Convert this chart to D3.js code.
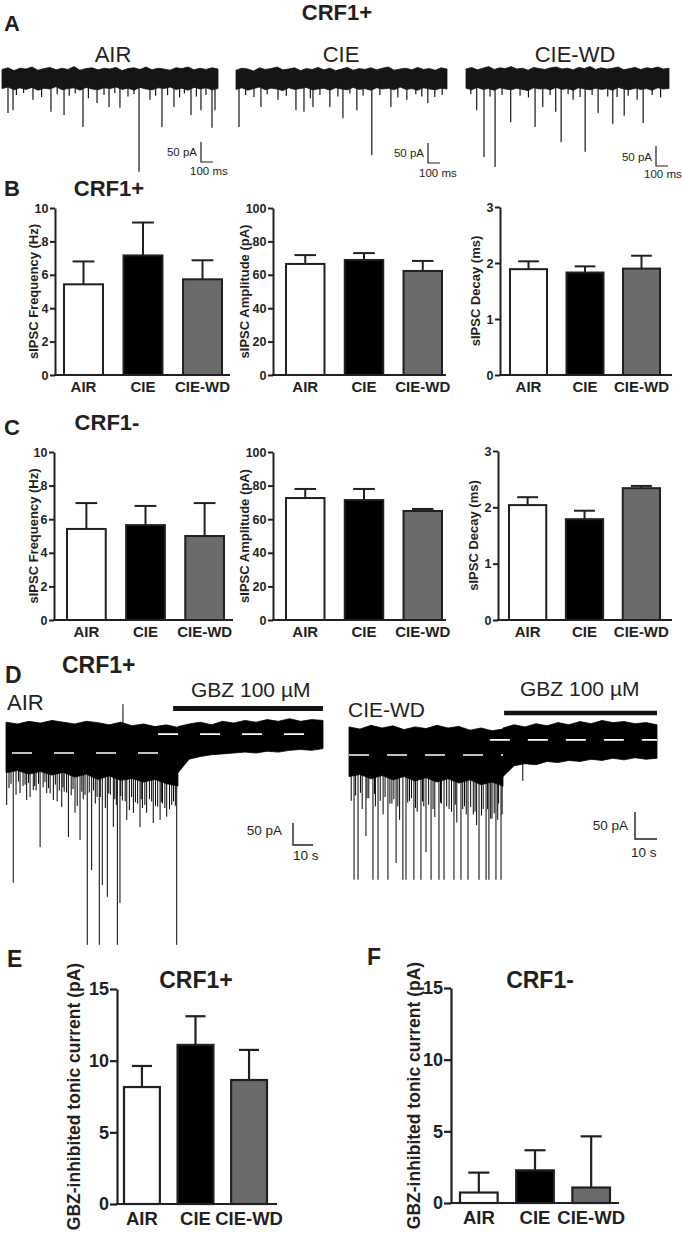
<!DOCTYPE html>
<html><head><meta charset="utf-8">
<script src="https://cdn.jsdelivr.net/npm/d3@7/dist/d3.min.js"></script>
<style>
body{margin:0;background:#fff}
svg{display:block}
text{font-family:"Liberation Sans",Arial,Helvetica,sans-serif}
</style>
</head><body>
<svg id="fig" width="682" height="1234"></svg>
<script>
// ---------------- DATA ----------------
const groups = ["AIR", "CIE", "CIE-WD"];
const fills = ["#ffffff", "#000000", "#6b6b6b"];

// Panel B (CRF1+) means and SEM
const bFreqMean = [5.43, 7.16, 5.73];
const bFreqSem  = [1.37, 1.97, 1.14];
const bAmpMean  = [66.5, 68.9, 62.3];
const bAmpSem   = [5.3, 4.1, 6.0];
const bDecMean  = [1.89, 1.83, 1.90];
const bDecSem   = [0.14, 0.11, 0.23];
// Panel C (CRF1-)
const cFreqMean = [5.42, 5.65, 5.00];
const cFreqSem  = [1.54, 1.14, 1.96];
const cAmpMean  = [72.6, 71.4, 64.9];
const cAmpSem   = [5.4, 6.6, 1.2];
const cDecMean  = [2.04, 1.79, 2.34];
const cDecSem   = [0.14, 0.15, 0.04];
// Panels E, F: GBZ-inhibited tonic current (pA)
const eMean = [8.16, 11.1, 8.65];
const eSem  = [1.47, 2.0, 2.1];
const fMean = [0.73, 2.28, 1.08];
const fSem  = [1.39, 1.40, 3.57];

// tick labels
const freqTicks  = [0, 2, 4, 6, 8, 10];
const ampTicks   = [0, 20, 40, 60, 80, 100];
const decayTicks = [0, 1, 2, 3];
const tonicTicks = [0, 5, 10, 15];

// Panel A traces: noise envelope (pA) and events [time ms, amplitude pA]
const aAirDur = 1800, aCieDur = 1760, aWdDur = 1690;
const aAirTop = [24,28,21,27,25,30,22,26,29,23,27,24,31,22,26,28,23,27,25,29,21,26,28,24,30,23,27,25,22,28,26,30,23,27,24,28,25];
const aAirBot = [-24,-20,-27,-22,-26,-21,-28,-23,-25,-19,-27,-24,-22,-28,-21,-25,-27,-22,-24,-20,-26,-23,-28,-21,-25,-27,-22,-24,-20,-26,-23,-28,-21,-25,-22,-27,-24];
const aCieTop = [22,27,25,20,28,24,26,30,23,25,28,21,26,24,29,23,27,21,25,29,22,26,24,28,23,27,30,22,25,27,23,29,24,26,22,28,25];
const aCieBot = [-26,-22,-28,-24,-20,-27,-23,-25,-29,-22,-26,-24,-21,-27,-25,-23,-28,-22,-25,-27,-21,-26,-24,-28,-22,-25,-23,-27,-20,-26,-24,-28,-22,-25,-27,-23,-25];
const aWdTop  = [25,29,23,27,31,24,28,26,31,25,27,22,29,26,24,28,30,25,27,23,29,26,31,24,28,25,27,30,23,26,29,24,28,26,30,25,27];
const aWdBot  = [-23,-27,-21,-26,-24,-28,-22,-25,-27,-23,-26,-29,-22,-25,-24,-27,-21,-26,-24,-28,-22,-25,-27,-23,-26,-24,-28,-21,-25,-27,-23,-26,-24,-28,-22,-25,-24];
const aAirEvents = [[50,-85],[92,-78],[120,-40],[180,-35],[258,-52],[330,-45],[408,-82],[460,-38],[517,-90],[560,-42],[610,-36],[675,-120],[720,-48],[792,-60],[850,-40],[892,-70],[940,-35],[983,-72],[1050,-44],[1100,-38],[1142,-232],[1233,-52],[1280,-42],[1333,-120],[1380,-40],[1433,-70],[1480,-46],[1520,-36],[1575,-90],[1620,-44],[1658,-78],[1700,-40],[1750,-122],[1775,-78]];
const aCieEvents = [[25,-120],[80,-40],[150,-45],[208,-70],[260,-38],[350,-52],[420,-42],[500,-78],[567,-82],[620,-48],[642,-70],[700,-40],[783,-70],[850,-44],[892,-98],[950,-36],[1008,-78],[1060,-42],[1133,-190],[1200,-40],[1292,-70],[1350,-46],[1425,-52],[1500,-38],[1550,-44],[1600,-60],[1658,-45],[1720,-40]];
const aWdEvents  = [[40,-38],[89,-78],[150,-195],[200,-44],[242,-220],[300,-40],[372,-108],[450,-42],[520,-46],[575,-120],[639,-70],[700,-40],[747,-82],[792,-158],[850,-38],[892,-52],[950,-45],[992,-182],[1050,-40],[1100,-85],[1180,-44],[1222,-112],[1258,-45],[1317,-92],[1350,-42],[1425,-52],[1475,-110],[1550,-40],[1620,-46]];

// Panel D traces (time s, current pA)
const dAirDur = 158, dAirWash = 85.7, dAirGbzOn = 83.3, dAirShift = 43;
const dAirPreTop  = [70, 66, 72, 68, 74, 70, 66, 72, 69, 64, 70, 62, 66, 60, 64, 58];
const dAirPreBot  = [-45, -40, -48, -42, -50, -44, -55, -48, -60, -52, -62, -58, -66, -60, -70, -75];
const dAirPostTop = [60, 66, 70, 64, 72, 68, 74, 70, 76, 72, 78, 72, 76, 74];
const dAirPostBot = [-45, -14, -8, -4, -2, 0, 2, 0, 4, 2, 6, 8, 6, 10];
const dAirEvents = [[0.35,-118],[1.5,-80],[2.5,-70],[3.6,-295],[5,-95],[6.2,-65],[7,-91],[8.5,-75],[9.5,-72],[10.3,-107],[11.2,-68],[12,-100],[13.6,-84],[14.3,-75],[15,-85],[16.2,-70],[17,-214],[18.5,-78],[19.4,-66],[20.3,-91],[21.2,-80],[22,-92],[23.6,-107],[24.6,-72],[25.5,-110],[26.6,-85],[27.8,-123],[28.4,-78],[29,-88],[30.2,-90],[31.1,-191],[32.5,-96],[33.4,-82],[34.4,-136],[35.5,-120],[36.9,-198],[37.8,-88],[38.5,-105],[39.4,-95],[40.5,-436],[41.5,-90],[42.7,-266],[43.6,-85],[44.5,-115],[45.4,-100],[46.5,-436],[47,-100],[48,-300],[49.5,-125],[50.5,-327],[51.2,-92],[52,-95],[53.5,-168],[54.2,-105],[55,-118],[55.5,-436],[56.8,-341],[57.2,-98],[58,-108],[59.4,-110],[60.2,-152],[61.5,-130],[62.6,-100],[63.5,-136],[64.5,-112],[65.6,-115],[66.8,-168],[67.4,-105],[68,-125],[69.2,-118],[70.1,-136],[71.5,-105],[72.6,-110],[73.4,-159],[74.5,-120],[75.6,-122],[76.8,-152],[77.4,-112],[78,-115],[79.2,-125],[80.1,-145],[81.5,-128],[82.6,-118],[83.5,-110],[84.4,-120],[85.1,-436]];
const dAirUpSpike = [[58.3, 111]];

const dWdDur = 140, dWdWash = 70, dWdGbzOn = 70.5, dWdShift = 28;
const dWdPreTop  = [52, 48, 55, 50, 54, 47, 52, 49, 55, 50, 53, 46, 50, 45, 48];
const dWdPreBot  = [-40, -36, -44, -38, -46, -40, -48, -42, -50, -44, -52, -46, -55, -50, -58];
const dWdPostTop = [50, 56, 52, 58, 54, 60, 56, 62, 58, 64, 60, 62, 58, 60, 56];
const dWdPostBot = [-40, -20, -16, -18, -12, -14, -10, -12, -8, -10, -6, -9, -5, -8, -6];
const dWdEvents = [[1,-85],[2.3,-231],[3,-75],[4.1,-231],[5.2,-70],[6,-100],[7.7,-150],[8.2,-80],[9,-80],[10.9,-231],[11.6,-72],[12,-95],[13.2,-231],[14.2,-85],[15.5,-110],[16.4,-78],[17.7,-231],[18.6,-90],[19.5,-90],[20.4,-82],[21.4,-200],[22.2,-95],[23,-120],[24.5,-231],[25.9,-231],[26.7,-88],[27.5,-85],[28.4,-80],[29.5,-231],[30.2,-98],[31,-105],[32.7,-231],[33.4,-86],[34,-95],[35,-180],[36.2,-92],[37.3,-231],[38.2,-100],[39,-115],[40.9,-231],[41.6,-88],[42,-90],[43.2,-231],[44.4,-95],[45.5,-100],[46.6,-105],[47.7,-231],[48.3,-92],[49,-125],[50.9,-231],[51.7,-100],[52.5,-95],[53.3,-110],[54.1,-231],[55.3,-96],[56.5,-110],[57.3,-105],[58,-130],[59.1,-231],[60.2,-112],[61,-100],[62.3,-231],[63,-100],[63.6,-231],[64.4,-118],[65,-118],[66,-108],[66.8,-231],[67.6,-120],[68,-90],[69.1,-231],[69.6,-110],[79,-48]];

// ---------------- DRAWING ----------------
const INK = "#231f20";
const FONT = '"Liberation Sans", Arial, Helvetica, sans-serif';
const svg = d3.select("#fig");

function txt(x, y, s, o = {}) {
  return svg.append("text").attr("x", x).attr("y", y).text(s)
    .attr("font-size", o.fs || 14)
    .attr("font-weight", o.bold ? "bold" : "normal")
    .attr("text-anchor", o.anchor || "start")
    .attr("fill", INK);
}

function trace(spec) {
  const x = d3.scaleLinear().domain([0, spec.dur]).range([spec.x0, spec.x1]);
  const y = d3.scaleLinear().domain([0, 50]).range([spec.y0, spec.y0 - 50 * spec.k]);
  const g = svg.append("g");
  const area = d3.area().x(d => x(d.t)).y0(d => y(d.bot)).y1(d => y(d.top));
  spec.segments.forEach(seg => {
    const n = seg.top.length;
    const pts = seg.top.map((v, i) => ({ t: seg.t0 + i * (seg.t1 - seg.t0) / (n - 1), top: v, bot: seg.bot[i] }));
    g.append("path").attr("d", area(pts)).attr("fill", spec.color)
      .attr("stroke", spec.color).attr("stroke-width", 0.8).attr("stroke-linejoin", "round");
  });
  g.selectAll("line.ev").data(spec.events).join("line").attr("class", "ev")
    .attr("x1", d => x(d[0])).attr("x2", d => x(d[0]))
    .attr("y1", y(0)).attr("y2", d => y(d[1]))
    .attr("stroke", spec.color).attr("stroke-width", spec.ew);
  return { x, y, g };
}

function scaleBar(xb, yb, lenV, lenH, l1, l2, o) {
  svg.append("path").attr("d", `M${xb},${yb - lenV}V${yb}H${xb + lenH}`)
    .attr("fill", "none").attr("stroke", INK).attr("stroke-width", o.sw || 1.2);
  txt(o.l1x, o.l1y, l1, { fs: o.fs, anchor: "end" });
  txt(o.l2x, o.l2y, l2, { fs: o.fs });
}

// ---- Panel A ----
txt(337, 20, "CRF1+", { fs: 22, bold: true, anchor: "middle" });
txt(4, 31, "A", { fs: 22, bold: true });
txt(113, 62, "AIR", { fs: 22, anchor: "middle" });
txt(341, 62, "CIE", { fs: 22, anchor: "middle" });
txt(575, 62, "CIE-WD", { fs: 22, anchor: "middle" });

const aSpecs = [
  { dur: aAirDur, x0: 2, x1: 218, top: aAirTop, bot: aAirBot, ev: aAirEvents, sb: [201, 162], l1: [197, 156], l2: [190, 175] },
  { dur: aCieDur, x0: 236, x1: 447, top: aCieTop, bot: aCieBot, ev: aCieEvents, sb: [428, 163], l1: [424, 157], l2: [419, 177] },
  { dur: aWdDur, x0: 466, x1: 669, top: aWdTop, bot: aWdBot, ev: aWdEvents, sb: [656, 166], l1: [652, 161], l2: [644, 178] }
];
aSpecs.forEach(s => {
  const t = trace({ dur: s.dur, x0: s.x0, x1: s.x1, y0: 79, k: 0.4, color: "#151515", ew: 1.2,
    segments: [{ t0: 0, t1: s.dur, top: s.top, bot: s.bot }], events: s.ev });
  const lenV = t.y(0) - t.y(50), lenH = t.x(100) - t.x(0);
  scaleBar(s.sb[0], s.sb[1], lenV, lenH, "50 pA", "100 ms",
    { fs: 11.5, l1x: s.l1[0], l1y: s.l1[1], l2x: s.l2[0], l2y: s.l2[1] });
});

// ---- Bar charts ----
function barChart(c) {
  const g = svg.append("g");
  const x = d3.scaleBand().domain(groups).range([c.barL, c.barR]).paddingInner(c.pad).paddingOuter(0);
  const y = d3.scaleLinear().domain([0, c.ymax]).range([c.bottom, c.top]);
  const bw = x.bandwidth();
  const rows = groups.map((gname, i) => ({ g: gname, m: c.mean[i], s: c.sem[i], f: fills[i] }));
  g.selectAll("line.eb").data(rows).join("line").attr("class", "eb")
    .attr("x1", d => x(d.g) + bw / 2).attr("x2", d => x(d.g) + bw / 2)
    .attr("y1", d => y(d.m)).attr("y2", d => y(d.m + d.s))
    .attr("stroke", INK).attr("stroke-width", c.sw);
  g.selectAll("line.cap").data(rows).join("line").attr("class", "cap")
    .attr("x1", d => x(d.g) + bw / 2 - bw * 0.28).attr("x2", d => x(d.g) + bw / 2 + bw * 0.28)
    .attr("y1", d => y(d.m + d.s)).attr("y2", d => y(d.m + d.s))
    .attr("stroke", INK).attr("stroke-width", c.sw);
  g.selectAll("rect").data(rows).join("rect")
    .attr("x", d => x(d.g)).attr("width", bw)
    .attr("y", d => y(d.m)).attr("height", d => y(0) - y(d.m))
    .attr("fill", d => d.f).attr("stroke", INK).attr("stroke-width", c.sw);
  const ya = g.append("g").attr("transform", `translate(${c.axisX},0)`)
    .call(d3.axisLeft(y).tickValues(c.ticks).tickFormat(d3.format("d"))
      .tickSize(c.tl).tickSizeOuter(0).tickPadding(c.tp));
  ya.attr("font-family", FONT).attr("font-size", c.tfs).attr("font-weight", "bold");
  ya.select(".domain").attr("stroke", INK).attr("stroke-width", c.aw);
  ya.selectAll(".tick line").attr("stroke", INK).attr("stroke-width", c.aw);
  ya.selectAll(".tick text").attr("fill", INK);
  g.append("line").attr("x1", c.axisX - c.aw / 2).attr("x2", c.lineEnd)
    .attr("y1", c.bottom).attr("y2", c.bottom).attr("stroke", INK).attr("stroke-width", c.aw);
  const xa = g.append("g").attr("transform", `translate(0,${c.bottom})`)
    .call(d3.axisBottom(x).tickSize(0).tickPadding(c.lp));
  xa.attr("font-family", FONT).attr("font-size", c.lfs).attr("font-weight", "bold");
  xa.select(".domain").remove();
  xa.selectAll(".tick text").attr("fill", INK);
  g.append("text").attr("transform", `translate(${c.titleX},${(c.top + c.bottom) / 2}) rotate(-90)`)
    .attr("text-anchor", "middle").attr("dy", "0.3em")
    .attr("font-size", c.yfs).attr("font-weight", "bold").attr("fill", INK).text(c.ytitle);
}

const smallStyle = { pad: 0.345, sw: 2, aw: 2, tl: 5, tp: 1.5, tfs: 12.5, lfs: 15, lp: 6, yfs: 13 };

// Panel B
txt(4, 196, "B", { fs: 22, bold: true });
txt(109, 196, "CRF1+", { fs: 22, bold: true, anchor: "middle" });
barChart(Object.assign({}, smallStyle, { axisX: 55, barL: 64, barR: 222, lineEnd: 230, top: 208, bottom: 375, ymax: 10, ticks: freqTicks, mean: bFreqMean, sem: bFreqSem, titleX: 34, ytitle: "sIPSC Frequency (Hz)" }));
barChart(Object.assign({}, smallStyle, { axisX: 273, barL: 286, barR: 442, lineEnd: 446, top: 208, bottom: 375, ymax: 100, ticks: ampTicks, mean: bAmpMean, sem: bAmpSem, titleX: 245, ytitle: "sIPSC Amplitude (pA)" }));
barChart(Object.assign({}, smallStyle, { axisX: 500, barL: 510, barR: 660, lineEnd: 672, top: 207, bottom: 375, ymax: 3, ticks: decayTicks, mean: bDecMean, sem: bDecSem, titleX: 476, ytitle: "sIPSC Decay (ms)" }));

// Panel C
txt(4, 435, "C", { fs: 22, bold: true });
txt(107, 430, "CRF1-", { fs: 22, bold: true, anchor: "middle" });
barChart(Object.assign({}, smallStyle, { axisX: 54, barL: 67, barR: 224, lineEnd: 233, top: 452, bottom: 620, ymax: 10, ticks: freqTicks, mean: cFreqMean, sem: cFreqSem, titleX: 34, ytitle: "sIPSC Frequency (Hz)" }));
barChart(Object.assign({}, smallStyle, { axisX: 273, barL: 286, barR: 442, lineEnd: 446, top: 452, bottom: 620, ymax: 100, ticks: ampTicks, mean: cAmpMean, sem: cAmpSem, titleX: 245, ytitle: "sIPSC Amplitude (pA)" }));
barChart(Object.assign({}, smallStyle, { axisX: 498, barL: 509, barR: 660, lineEnd: 672, top: 451, bottom: 620, ymax: 3, ticks: decayTicks, mean: cDecMean, sem: cDecSem, titleX: 474, ytitle: "sIPSC Decay (ms)" }));

// ---- Panel D ----
txt(5, 683, "D", { fs: 23, bold: true });
txt(62, 673, "CRF1+", { fs: 23, bold: true });
txt(7, 710, "AIR", { fs: 22 });
txt(191, 697, "GBZ 100 \u00b5M", { fs: 21 });
txt(348, 717, "CIE-WD", { fs: 21 });
txt(520, 696, "GBZ 100 \u00b5M", { fs: 21 });

const dA = trace({ dur: dAirDur, x0: 6, x1: 323, y0: 753, k: 0.44, color: "#000", ew: 1,
  segments: [{ t0: 0, t1: dAirWash, top: dAirPreTop, bot: dAirPreBot },
             { t0: dAirWash, t1: dAirDur, top: dAirPostTop, bot: dAirPostBot }],
  events: dAirEvents.concat(dAirUpSpike) });
svg.append("line").attr("x1", dA.x(dAirGbzOn)).attr("x2", dA.x(dAirDur)).attr("y1", 708.5).attr("y2", 708.5)
  .attr("stroke", "#111").attr("stroke-width", 5);
dA.g.append("line").attr("x1", dA.x(3)).attr("x2", dA.x(dAirWash)).attr("y1", dA.y(0)).attr("y2", dA.y(0))
  .attr("stroke", "#fff").attr("stroke-width", 1.6).attr("stroke-dasharray", "20,22");
dA.g.append("line").attr("x1", dA.x(75.8)).attr("x2", dA.x(dAirDur)).attr("y1", dA.y(dAirShift)).attr("y2", dA.y(dAirShift))
  .attr("stroke", "#fff").attr("stroke-width", 1.6).attr("stroke-dasharray", "20,22");
scaleBar(293, 845, dA.y(0) - dA.y(50), dA.x(10) - dA.x(0), "50 pA", "10 s",
  { fs: 13.5, sw: 1.4, l1x: 282, l1y: 835, l2x: 293, l2y: 860 });

const dW = trace({ dur: dWdDur, x0: 349, x1: 657, y0: 755, k: 0.54, color: "#000", ew: 1,
  segments: [{ t0: 0, t1: dWdWash, top: dWdPreTop, bot: dWdPreBot },
             { t0: dWdWash, t1: dWdDur, top: dWdPostTop, bot: dWdPostBot }],
  events: dWdEvents });
svg.append("line").attr("x1", dW.x(dWdGbzOn)).attr("x2", dW.x(dWdDur)).attr("y1", 713).attr("y2", 713)
  .attr("stroke", "#111").attr("stroke-width", 4.5);
dW.g.append("line").attr("x1", dW.x(0)).attr("x2", dW.x(dWdWash)).attr("y1", dW.y(0)).attr("y2", dW.y(0))
  .attr("stroke", "#fff").attr("stroke-width", 1.6).attr("stroke-dasharray", "20,18");
dW.g.append("line").attr("x1", dW.x(64)).attr("x2", dW.x(dWdDur)).attr("y1", dW.y(dWdShift)).attr("y2", dW.y(dWdShift))
  .attr("stroke", "#fff").attr("stroke-width", 1.6).attr("stroke-dasharray", "20,18");
scaleBar(635, 839, dW.y(0) - dW.y(50), dW.x(10) - dW.x(0), "50 pA", "10 s",
  { fs: 13.5, sw: 1.4, l1x: 628, l1y: 830, l2x: 631, l2y: 857 });

// ---- Panels E, F ----
const bigStyle = { pad: 0.33, sw: 2.2, aw: 2.2, tl: 7, tp: 1, tfs: 18, lfs: 18.5, lp: 8, yfs: 17.5 };
txt(7, 967, "E", { fs: 23, bold: true });
txt(196, 988, "CRF1+", { fs: 23, bold: true, anchor: "middle" });
barChart(Object.assign({}, bigStyle, { axisX: 117, barL: 124, barR: 267, lineEnd: 277, top: 989, bottom: 1204, ymax: 15, ticks: tonicTicks, mean: eMean, sem: eSem, titleX: 75, ytitle: "GBZ-inhibited tonic current (pA)" }));
txt(367, 965, "F", { fs: 23, bold: true });
txt(540, 988, "CRF1-", { fs: 23, bold: true, anchor: "middle" });
barChart(Object.assign({}, bigStyle, { axisX: 451, barL: 460, barR: 610, lineEnd: 619, top: 988, bottom: 1203, ymax: 15, ticks: tonicTicks, mean: fMean, sem: fSem, titleX: 415, ytitle: "GBZ-inhibited tonic current (pA)" }));
</script>
</body></html>
